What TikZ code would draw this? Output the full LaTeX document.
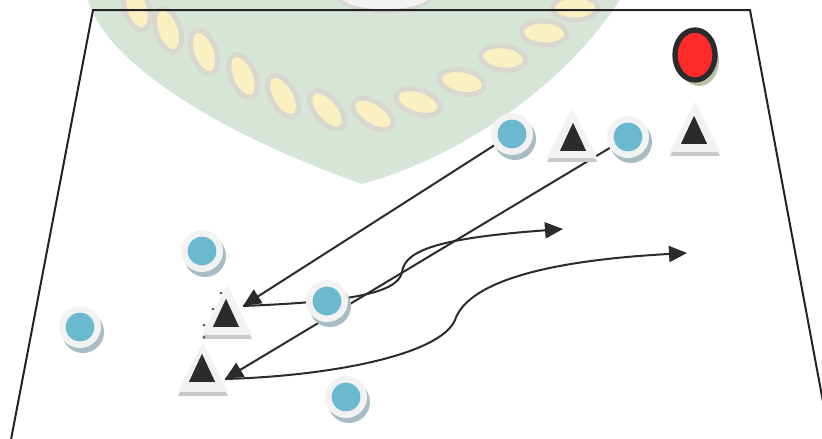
\documentclass[tikz,border=0pt]{standalone}
\usetikzlibrary{shapes.geometric,shadows,arrows.meta,backgrounds,calc}

\definecolor{pitchline}{HTML}{222222}
\definecolor{playerblue}{HTML}{6BB9CF}
\definecolor{ringgrey}{HTML}{F2F2F2}
\definecolor{blueshade}{HTML}{A7BCC4}
\definecolor{conedark}{HTML}{2B2B2B}
\definecolor{coneshade}{HTML}{C9C9C9}
\definecolor{keeperred}{HTML}{FF2B2B}
\definecolor{keepershade}{HTML}{BCC0AA}
\definecolor{crestgreen}{HTML}{D6E5D7}
\definecolor{crestgold}{HTML}{FBF0C2}
\definecolor{crestrim}{HTML}{D8D8D0}

\tikzset{
  player/.style={circle, inner sep=0pt, minimum size=1.26cm, fill=ringgrey,
    path picture={\fill[playerblue] (path picture bounding box.center) circle (0.43cm);},
    drop shadow={fill=blueshade, opacity=1, shadow xshift=0.09cm, shadow yshift=-0.15cm}},
  cone/.style={isosceles triangle, shape border rotate=90, isosceles triangle stretches=true,
    inner sep=0pt, minimum width=1.5cm, minimum height=1.5cm, fill=ringgrey, anchor=south,
    drop shadow={fill=coneshade, opacity=1, shadow xshift=0cm, shadow yshift=-0.12cm}},
  conetop/.style={isosceles triangle, shape border rotate=90, isosceles triangle stretches=true,
    inner sep=0pt, minimum width=0.78cm, minimum height=0.84cm, fill=conedark, anchor=south},
  keeper/.style={ellipse, inner sep=0pt, minimum width=1.2cm, minimum height=1.5cm,
    fill=keeperred, draw=conedark, line width=0.16cm,
    drop shadow={fill=keepershade, opacity=1, shadow xshift=0.12cm, shadow yshift=-0.18cm}},
  run/.style={draw=conedark, line width=0.06cm},
  pass/.style={run, -{Triangle[length=0.54cm, width=0.48cm]}},
}

\begin{document}
\begin{tikzpicture}[x=0.03cm, y=-0.03cm]
  \useasboundingbox (0,0) rectangle (822,438);

  % keeper
  \node[keeper] (gk) at (695,55) {};

  % top row
  \node[player] (p1) at (512,134) {};
  \node[cone] (k1) at (572,158) {};
  \node[conetop] (k1-in) at (573,151) {};
  \node[player] (p2) at (628,137) {};
  \node[cone] (k2) at (695,152) {};
  \node[conetop] (k2-in) at (694,144) {};

  % bottom group
  \node[player] (p3) at (202,251) {};
  \node[player] (p4) at (327,301) {};
  \node[player] (p5) at (80,327) {};
  \node[player] (p6) at (346,397) {};
  \node[cone] (k3) at (227,335) {};
  \node[conetop] (k3-in) at (226,327) {};
  \node[cone] (k4) at (203,392) {};
  \node[conetop] (k4-in) at (202,382) {};
  \foreach \dx/\dy in {221/293, 213/309, 204/325, 204/337}
    \fill[conedark!80] (\dx,\dy) circle (0.045cm);

  % where the passes land, and where the runs end
  \coordinate (k3-hit) at (243,306);
  \coordinate (k4-hit) at (225,379);
  \coordinate (r1) at (563,229);
  \coordinate (r2) at (687,253);

  \begin{scope}[on background layer]
    % crest in the back
    \fill[crestgreen] (80,-20) -- (88,0) .. controls (105,60) and (210,130) .. (362,184)
      .. controls (450,160) and (570,90) .. (632,-20) -- cycle;
    \filldraw[fill=ringgrey, draw=crestrim, line width=0.1cm] (385,-4) ellipse (1.4cm and 0.45cm);
    \foreach \bx/\by/\ba in {137/8/17, 168/30/19, 204/52/20, 243/76/23, 283/96/30, 327/110/40,
        373/114/57, 418/102/72, 462/82/79, 503/58/83, 544/33/87, 575/8/91}
      \filldraw[fill=crestgold, draw=crestrim, line width=0.15cm, rotate around={\ba:(\bx,\by)}]
        (\bx,\by) ellipse (0.36cm and 0.68cm);

    % pitch
    \draw[pitchline, line width=0.06cm] (9,450) -- (93,10) -- (750,10) -- (832,450);

    % passes and runs
    \draw[pass] (p1) -- (k3-hit);
    \draw[pass] (p2) -- (k4-hit);
    \draw[pass] (k3-hit) .. controls (340,302) and (398,295) .. (402,272)
      .. controls (405,250) and (440,238) .. (r1);
    \draw[pass] (k4-hit) .. controls (330,376) and (440,355) .. (455,320)
      .. controls (465,290) and (520,262) .. (r2);
  \end{scope}
\end{tikzpicture}
\end{document}
